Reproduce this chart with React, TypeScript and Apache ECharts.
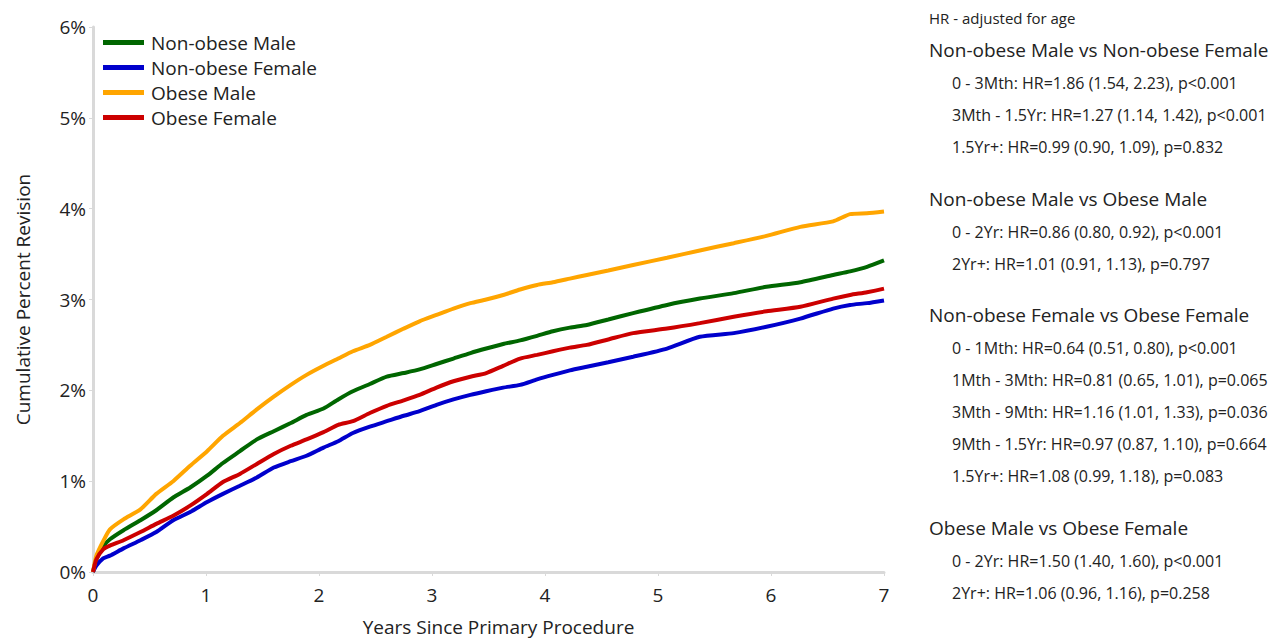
import React, { useEffect, useRef } from "react";
import * as echarts from "echarts";

const seriesNames = ["Non-obese Male", "Non-obese Female", "Obese Male", "Obese Female"];
const seriesColors = ["#006600", "#0000cc", "#ffa500", "#cc0000"];

const years = [0, 0.03, 0.09, 0.15, 0.27, 0.42, 0.56, 0.71, 0.86, 1.01, 1.15, 1.3, 1.45, 1.6, 1.75, 1.89, 2.04, 2.17, 2.3, 2.45, 2.6, 2.75, 2.89, 3.04, 3.19, 3.34, 3.48, 3.63, 3.78, 3.93, 4.07, 4.22, 4.37, 4.56, 4.78, 5.08, 5.37, 5.67, 5.96, 6.26, 6.55, 6.7, 6.85, 7.0];

const nonObeseMale = [0, 0.14, 0.28, 0.36, 0.46, 0.57, 0.68, 0.82, 0.93, 1.06, 1.2, 1.33, 1.46, 1.55, 1.64, 1.73, 1.8, 1.9, 1.99, 2.07, 2.15, 2.19, 2.23, 2.29, 2.35, 2.41, 2.46, 2.51, 2.55, 2.6, 2.65, 2.69, 2.72, 2.78, 2.85, 2.94, 3.01, 3.07, 3.14, 3.19, 3.27, 3.31, 3.36, 3.43];
const nonObeseFemale = [0, 0.07, 0.15, 0.18, 0.26, 0.35, 0.44, 0.57, 0.66, 0.77, 0.86, 0.95, 1.04, 1.15, 1.22, 1.28, 1.37, 1.44, 1.53, 1.6, 1.66, 1.72, 1.77, 1.84, 1.9, 1.95, 1.99, 2.03, 2.06, 2.12, 2.17, 2.22, 2.26, 2.31, 2.37, 2.46, 2.59, 2.63, 2.7, 2.79, 2.9, 2.94, 2.96, 2.99];
const obeseMale = [0, 0.18, 0.34, 0.47, 0.58, 0.69, 0.86, 1.0, 1.17, 1.33, 1.5, 1.64, 1.79, 1.93, 2.06, 2.17, 2.27, 2.35, 2.43, 2.5, 2.59, 2.68, 2.76, 2.83, 2.9, 2.96, 3.0, 3.05, 3.11, 3.16, 3.19, 3.23, 3.27, 3.32, 3.38, 3.46, 3.54, 3.62, 3.7, 3.8, 3.86, 3.94, 3.95, 3.97];
const obeseFemale = [0, 0.14, 0.25, 0.29, 0.35, 0.44, 0.53, 0.62, 0.73, 0.86, 0.99, 1.08, 1.19, 1.3, 1.39, 1.46, 1.54, 1.62, 1.66, 1.75, 1.83, 1.89, 1.95, 2.03, 2.1, 2.15, 2.19, 2.27, 2.35, 2.39, 2.43, 2.47, 2.5, 2.56, 2.63, 2.68, 2.74, 2.81, 2.87, 2.92, 3.01, 3.05, 3.08, 3.12];

const yTicks = [0, 1, 2, 3, 4, 5, 6];
const xTicks = [0, 1, 2, 3, 4, 5, 6, 7];

const noteTitle = "HR - adjusted for age";
const headings = [
  "Non-obese Male vs Non-obese Female",
  "Non-obese Male vs Obese Male",
  "Non-obese Female vs Obese Female",
  "Obese Male vs Obese Female",
];
const groupLines = [
  [
    "0 - 3Mth: HR=1.86 (1.54, 2.23), p<0.001",
    "3Mth - 1.5Yr: HR=1.27 (1.14, 1.42), p<0.001",
    "1.5Yr+: HR=0.99 (0.90, 1.09), p=0.832",
  ],
  [
    "0 - 2Yr: HR=0.86 (0.80, 0.92), p<0.001",
    "2Yr+: HR=1.01 (0.91, 1.13), p=0.797",
  ],
  [
    "0 - 1Mth: HR=0.64 (0.51, 0.80), p<0.001",
    "1Mth - 3Mth: HR=0.81 (0.65, 1.01), p=0.065",
    "3Mth - 9Mth: HR=1.16 (1.01, 1.33), p=0.036",
    "9Mth - 1.5Yr: HR=0.97 (0.87, 1.10), p=0.664",
    "1.5Yr+: HR=1.08 (0.99, 1.18), p=0.083",
  ],
  [
    "0 - 2Yr: HR=1.50 (1.40, 1.60), p<0.001",
    "2Yr+: HR=1.06 (0.96, 1.16), p=0.258",
  ],
];

const FONT = "'Open Sans', 'Noto Sans', sans-serif";

export default function App() {
  const ref = useRef<HTMLDivElement>(null);
  useEffect(() => {
    document.body.style.margin = "0";
    if (!ref.current) return;
    const chart = echarts.init(ref.current, null, { renderer: "svg" });
    const allData = [nonObeseMale, nonObeseFemale, obeseMale, obeseFemale];

    const graphics: any[] = [];
    graphics.push({
      type: "text",
      x: 929,
      y: 18,
      style: { text: noteTitle, fontSize: 15, fontFamily: FONT, fill: "#222", verticalAlign: "middle" },
    });
    const headingY = [50, 199, 315, 528];
    headings.forEach((h, gi) => {
      const y0 = headingY[gi];
      graphics.push({
        type: "text",
        x: 929,
        y: y0,
        style: { text: h, fontSize: 19, fontFamily: FONT, fill: "#222", verticalAlign: "middle" },
      });
      groupLines[gi].forEach((t, li) => {
        graphics.push({
          type: "text",
          x: 952,
          y: y0 + 33 + li * 32,
          style: { text: t, fontSize: 16, fontFamily: FONT, fill: "#222", verticalAlign: "middle" },
        });
      });
    });

    chart.setOption({
      animation: false,
      textStyle: { fontFamily: FONT },
      grid: { left: 93, right: 385, top: 27, bottom: 66 },
      legend: {
        orient: "vertical",
        left: 98,
        top: 28,
        itemWidth: 41,
        itemHeight: 5,
        itemGap: 6,
        icon: "rect",
        textStyle: { fontSize: 19, color: "#222", fontFamily: FONT, padding: [0, 0, 0, 2] },
        data: seriesNames,
      },
      xAxis: {
        type: "value",
        min: 0,
        max: 7,
        interval: 1,
        name: "Years Since Primary Procedure",
        nameLocation: "middle",
        nameGap: 45,
        nameTextStyle: { fontSize: 19, color: "#222", padding: [0, 0, 0, 20] },
        axisLine: { show: true, lineStyle: { color: "#d9d9d9", width: 3 } },
        axisTick: { show: true, length: 4, lineStyle: { color: "#d9d9d9" } },
        axisLabel: { fontSize: 19, color: "#222", margin: 13 },
        splitLine: { show: false },
      },
      yAxis: {
        type: "value",
        min: 0,
        max: 6,
        interval: 1,
        name: "Cumulative Percent Revision",
        nameLocation: "middle",
        nameGap: 61,
        nameTextStyle: { fontSize: 19, color: "#222" },
        axisLine: { show: true, lineStyle: { color: "#d9d9d9", width: 3 } },
        axisTick: { show: true, length: 4, lineStyle: { color: "#d9d9d9" } },
        axisLabel: { fontSize: 19, color: "#222", formatter: (v: number) => v + "%", margin: 7 },
        splitLine: { show: false },
      },
      series: seriesNames.map((n, i) => ({
        name: n,
        type: "line",
        showSymbol: false,
        smooth: 0.2,
        lineStyle: { width: 4, color: seriesColors[i] },
        itemStyle: { color: seriesColors[i] },
        data: years.map((x, k) => [x, allData[i][k]]),
        z: i === 3 ? 5 : 3,
      })),
      graphic: graphics,
    });
    return () => chart.dispose();
  }, []);
  return <div ref={ref} style={{ width: 1269, height: 641 }} />;
}
